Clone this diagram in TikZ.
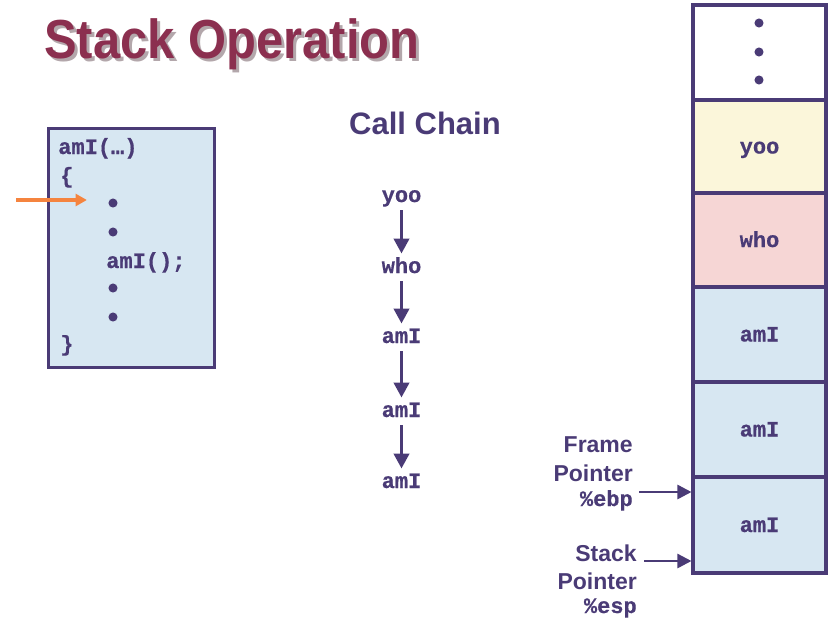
\documentclass[tikz,border=0pt]{standalone}
\usepackage{fontspec}
\setmainfont{Liberation Sans}
\newfontfamily\codefont[BoldFeatures={FakeBold=0.6}]{Liberation Mono}
\usetikzlibrary{arrows.meta}
\definecolor{ink}{HTML}{4A3B76}
\definecolor{maroon}{HTML}{8B2F4F}
\definecolor{shade}{HTML}{B3A7AB}
\definecolor{codebg}{HTML}{D7E7F2}
\definecolor{cream}{HTML}{FBF6DA}
\definecolor{rose}{HTML}{F6D6D5}
\definecolor{pcorange}{HTML}{F5843F}
\tikzset{
  code/.style={font=\codefont\bfseries\fontsize{16.5}{20}\selectfont, text=ink, inner sep=0pt},
  chainfn/.style={code, anchor=base, text height=8pt, text depth=2pt},
  flow/.style={draw=ink, line width=1.9pt, -{Triangle[length=11pt,width=11.5pt]},
               shorten <=4pt, shorten >=6.5pt},
  cell/.style={draw=ink, line width=2.3pt, minimum width=133*0.75pt, inner sep=0pt,
               text height=12.5pt, text depth=2pt,
               font=\codefont\bfseries\fontsize{16.5}{20}\selectfont, text=ink},
  ptrlabel/.style={font=\bfseries\fontsize{17.25}{21}\selectfont, text=ink, inner sep=0pt, anchor=base east},
  ptrreg/.style={code, anchor=base east},
  ptr/.style={draw=ink, line width=1.9pt, -{Triangle[length=10.5pt,width=10.5pt]}},
  bulletdot/.style={circle, fill=ink, inner sep=0pt, minimum size=6.8pt},
}
\begin{document}
\begin{tikzpicture}[x=0.75pt,y=-0.75pt]
\useasboundingbox (0,0) rectangle (837,621);

% title with drop shadow
\node[anchor=base west, inner sep=0pt, text=shade,
      font=\bfseries\fontsize{41.25}{48}\selectfont] (titleshadow) at (47,61)
      {\scalebox{0.89}[1]{Stack Operation}};
\node[anchor=base west, inner sep=0pt, text=maroon,
      font=\bfseries\fontsize{41.25}{48}\selectfont] (title) at (44,58)
      {\scalebox{0.89}[1]{Stack Operation}};

% code of the running procedure
\node[draw=ink, line width=1.9pt, fill=codebg, minimum width=166*0.75pt,
      minimum height=239*0.75pt, anchor=north west, inner sep=0pt] (codebox) at (47,127) {};
\node[code, anchor=base west] (head) at (58,154) {amI(…)};
\node[code, anchor=base west] (open) at (60,183) {\{};
\node[bulletdot] (b1) at (113,203) {};
\node[bulletdot] (b2) at (113,232) {};
\node[code, anchor=base west] (call) at (106,268) {amI();};
\node[bulletdot] (b3) at (113,288) {};
\node[bulletdot] (b4) at (113,317) {};
\node[code, anchor=base west] (close) at (60,351) {\}};

% current-instruction arrow
\coordinate (pcstart) at (16,200);
\draw[draw=pcorange, line width=2.3pt, -{Triangle[length=8.5pt,width=9pt]}, shorten >=16pt]
  (pcstart) -- (pcstart -| b1.west);

% call chain
\node[font=\bfseries\fontsize{23.25}{28}\selectfont, text=ink, anchor=base, inner sep=0pt]
  (chainhead) at (425,134) {Call Chain};
\node[chainfn] (n1) at (401.5,202) {yoo};
\node[chainfn] (n2) at (401.5,273) {who};
\node[chainfn] (n3) at (401.5,343) {amI};
\node[chainfn] (n4) at (401.5,417) {amI};
\node[chainfn] (n5) at (401.5,488) {amI};
\draw[flow] (n1) -- (n2);
\draw[flow] (n2) -- (n3);
\draw[flow] (n3) -- (n4);
\draw[flow] (n4) -- (n5);

% stack frames
\node[cell, fill=white, minimum height=95*0.75pt] (c0) at (759.5,52.5) {};
\node[cell, fill=cream, minimum height=93*0.75pt] (c1) at (759.5,146.5) {yoo};
\node[cell, fill=rose,  minimum height=94*0.75pt] (c2) at (759.5,240) {who};
\node[cell, fill=codebg, minimum height=95*0.75pt] (c3) at (759.5,334.5) {amI};
\node[cell, fill=codebg, minimum height=95*0.75pt] (c4) at (759.5,429.5) {amI};
\node[cell, fill=codebg, minimum height=96*0.75pt] (c5) at (759.5,525) {amI};
\node[bulletdot] (d1) at (759,23) {};
\node[bulletdot] (d2) at (759,52) {};
\node[bulletdot] (d3) at (759,80) {};

% frame pointer
\node[ptrlabel] (fp1) at (633,452) {Frame};
\node[ptrlabel] (fp2) at (633,481) {Pointer};
\node[ptrreg]   (fp3) at (633,506) {\%ebp};
\coordinate (fpa) at (639,492);
\draw[ptr] (fpa) -- (fpa -| c5.west);

% stack pointer
\node[ptrlabel] (sp1) at (637,561) {Stack};
\node[ptrlabel] (sp2) at (637,589) {Pointer};
\node[ptrreg]   (sp3) at (637,613) {\%esp};
\coordinate (spa) at (644,561);
\draw[ptr] (spa) -- (spa -| c5.west);
\end{tikzpicture}
\end{document}
